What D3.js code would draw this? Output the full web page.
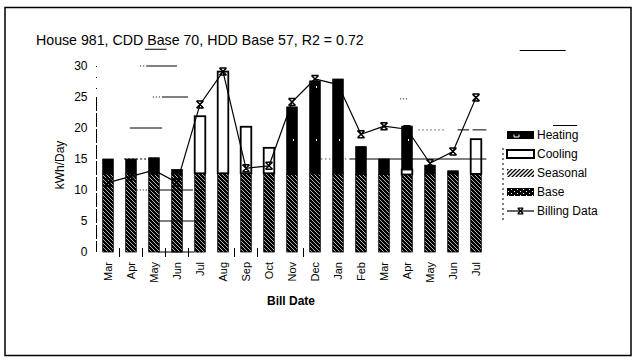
<!DOCTYPE html>
<html><head><meta charset="utf-8">
<script src="https://cdn.jsdelivr.net/npm/d3@7"></script>
<style>
body{margin:0;background:#fff}
svg{display:block}
text{font-family:"Liberation Sans",Arial,sans-serif;fill:#000}
</style>
</head><body>
<svg id="chart" width="637" height="362"></svg>
<script>
// ---- data ----
const billDates   = ["Mar","Apr","May","Jun","Jul","Aug","Sep","Oct","Nov","Dec","Jan","Feb","Mar","Apr","May","Jun","Jul"];
const baseKwh     = [12.6,12.6,12.6,12.6,12.7,12.7,12.7,12.7,12.5,12.6,12.6,12.5,12.5,12.5,12.6,12.6,12.6];
const seasonalKwh = [0,0,0,0,0,0,0,0,0,0,0,0,0,0,0,0,0];
const coolingKwh  = [0,0,0,0,9.2,16.4,7.5,4.1,0,0,0,0,0,0.8,0,0,5.6];
const heatingKwh  = [2.4,2.4,2.6,0.7,0,0,0,0,10.9,15.0,15.3,4.5,2.5,7.0,1.4,0.5,0];
const billingKwh  = [11.2,12.2,13.2,11.2,23.8,29.1,13.5,13.9,24.2,27.9,27.0,19.0,20.3,19.8,14.3,16.2,24.9];
const yTicks      = [0,5,10,15,20,25,30];
const legendLabels = ["Heating","Cooling","Seasonal","Base","Billing Data"];
const titleText = "House 981, CDD Base 70, HDD Base 57, R2 = 0.72";

// ---- layout ----
const svg = d3.select("#chart");
const X0 = 96.5, X1 = 487.5, Y0 = 252, Y1 = 66;
const idx = d3.range(billDates.length);
const x = d3.scaleBand().domain(idx).range([X0, X1]).paddingInner(0.54).paddingOuter(0.27);
const xc = d3.scaleLinear().domain([0, billDates.length]).range([X0, X1]); // category units
const y = d3.scaleLinear().domain([0, 30]).range([Y0, Y1]);

const table = idx.map(i => ({i, base: baseKwh[i], seasonal: seasonalKwh[i], cooling: coolingKwh[i], heating: heatingKwh[i]}));
const series = d3.stack().keys(["base","seasonal","cooling","heating"])(table);

// ---- patterns ----
const defs = svg.append("defs");
const pBase = defs.append("pattern").attr("id","pBase").attr("patternUnits","userSpaceOnUse").attr("width",4).attr("height",4);
pBase.append("rect").attr("width",4).attr("height",4).attr("fill","#000");
pBase.append("path").attr("d","M-1,-1L5,5M-1,3L1,5M3,-1L5,1").attr("stroke","#fff").attr("stroke-width",0.7);

const pSeas = defs.append("pattern").attr("id","pSeas").attr("patternUnits","userSpaceOnUse").attr("width",4).attr("height",4);
pSeas.append("rect").attr("width",4).attr("height",4).attr("fill","#fff");
pSeas.append("path").attr("d","M-1,5L5,-1M-1,1L1,-1M3,5L5,3").attr("stroke","#000").attr("stroke-width",1.3);

const pHeat = defs.append("pattern").attr("id","pHeat").attr("patternUnits","userSpaceOnUse").attr("width",23).attr("height",53);
pHeat.append("rect").attr("width",23).attr("height",53).attr("fill","#000");
pHeat.append("rect").attr("x",5).attr("y",9).attr("width",3).attr("height",4).attr("fill","#fff");
pHeat.append("rect").attr("x",17).attr("y",33).attr("width",1).attr("height",2).attr("fill","#fff");
pHeat.append("rect").attr("x",7).attr("y",41).attr("width",1).attr("height",1).attr("fill","#fff");

const pDots = defs.append("pattern").attr("id","pDots").attr("patternUnits","userSpaceOnUse").attr("width",6).attr("height",4);
pDots.append("rect").attr("width",6).attr("height",4).attr("fill","#000");
pDots.append("rect").attr("x",1).attr("y",1).attr("width",1).attr("height",1).attr("fill","#fff");
pDots.append("rect").attr("x",4).attr("y",3).attr("width",1).attr("height",1).attr("fill","#fff");

const fills = {base:"url(#pBase)", seasonal:"url(#pSeas)", cooling:"#fff", heating:"url(#pHeat)"};

// ---- frame ----
svg.append("rect").attr("x",5).attr("y",7.5).attr("width",626).attr("height",348)
  .attr("fill","none").attr("stroke","#000").attr("stroke-width",1.5);

// ---- title ----
svg.append("text").attr("x",36).attr("y",45).attr("font-size","14.2px").text(titleText);

// ---- bars ----
const gBars = svg.append("g");
series.forEach(s => {
  gBars.append("g").selectAll("rect").data(s.filter(d => d[1] - d[0] > 0)).join("rect")
    .attr("x", d => x(d.data.i))
    .attr("width", x.bandwidth())
    .attr("y", d => y(d[1]))
    .attr("height", d => y(d[0]) - y(d[1]))
    .attr("fill", fills[s.key])
    .attr("stroke", "#000")
    .attr("stroke-width", s.key === "cooling" ? 1.8 : 0.8);
});

// ---- stray grid fragments visible in the reference (level in kWh/Day, span in category units) ----
const fragments = [
  {v:32.7, a:2.1, b:3.05, dash:null},
  {v:30, a:1.9, b:2.2, dash:"1,2"}, {v:30, a:2.2, b:3.5, dash:null},
  {v:25, a:2.45, b:2.85, dash:"1,2"}, {v:25, a:2.85, b:3.98, dash:null},
  {v:20, a:1.45, b:2.85, dash:null},
  {v:15, a:1.2, b:2.7, dash:"2,2"},
  {v:15, a:9.6, b:11.0, dash:"1,3"}, {v:15, a:11.0, b:16.95, dash:null},
  {v:10, a:1.75, b:2.25, dash:"1,2"}, {v:10, a:2.25, b:4.15, dash:null}, {v:10, a:4.15, b:4.7, dash:"1,2"},
  {v:5, a:2.67, b:4.75, dash:null},
  {v:0, a:2.67, b:4.2, dash:null}, {v:0, a:4.2, b:4.7, dash:"1,3"},
  {v:24.7, a:13.2, b:13.5, dash:"1,2"},
  {v:19.7, a:14.0, b:15.1, dash:"1,3"}, {v:19.7, a:15.7, b:16.2, dash:null}, {v:19.7, a:16.35, b:16.95, dash:null},
  {v:32.5, a:18.4, b:20.4, dash:null},
  {v:20.4, a:19.85, b:20.9, dash:null}
];
svg.append("g").selectAll("line").data(fragments).join("line")
  .attr("x1", d => xc(d.a)).attr("x2", d => xc(d.b))
  .attr("y1", d => y(d.v)).attr("y2", d => y(d.v))
  .attr("stroke","#000").attr("stroke-width",1)
  .attr("stroke-dasharray", d => d.dash);

// ---- y axis ----
const gy = svg.append("g").attr("transform",`translate(${X0},0)`)
  .call(d3.axisLeft(y).tickValues(yTicks).tickSize(0).tickPadding(9));
gy.select(".domain").remove();
gy.selectAll("text").attr("font-size","12px").attr("font-family","Liberation Sans, Arial, sans-serif");
svg.append("line").attr("x1",X0).attr("x2",X0).attr("y1",y(30)).attr("y2",y(25))
  .attr("stroke","#000").attr("stroke-dasharray","1,10");
svg.append("line").attr("x1",X0).attr("x2",X0).attr("y1",y(25)).attr("y2",y(0))
  .attr("stroke","#000").attr("stroke-dasharray","14,2");

// ---- x axis ----
const gx = svg.append("g").attr("transform",`translate(0,${Y0})`)
  .call(d3.axisBottom(x).tickFormat(i => billDates[i]).tickSize(0));
gx.select(".domain").remove();
gx.selectAll("text")
  .attr("font-size","11px").attr("font-family","Liberation Sans, Arial, sans-serif")
  .attr("transform","rotate(-90)").attr("x",-10).attr("y",0).attr("dy","0.35em")
  .attr("text-anchor","end");
const tickBounds = [1,2,3,4,6,7,9];
svg.append("g").selectAll("line").data(tickBounds).join("line")
  .attr("x1", d => xc(d)).attr("x2", d => xc(d))
  .attr("y1", Y0 - 4).attr("y2", Y0 + 5)
  .attr("stroke","#000").attr("stroke-width",1);

// ---- billing line ----
const marker = "M-3.5,-3.5L3.5,-3.5M-3.5,3.5L3.5,3.5M-3.5,-3.5L3.5,3.5M3.5,-3.5L-3.5,3.5";
const xMid = i => x(i) + x.bandwidth()/2;
svg.append("path").datum(billingKwh)
  .attr("d", d3.line().x((d,i) => xMid(i)).y(d => y(d)))
  .attr("fill","none").attr("stroke","#000").attr("stroke-width",1.2);
svg.append("g").selectAll("path").data(billingKwh).join("path")
  .attr("transform",(d,i) => `translate(${xMid(i)},${y(d)})`)
  .attr("d", marker).attr("fill","none").attr("stroke","#000").attr("stroke-width",1.5);

// ---- axis titles ----
svg.append("text").attr("transform","translate(64,165) rotate(-90)")
  .attr("text-anchor","middle").attr("font-size","12px").text("kWh/Day");
svg.append("text").attr("x",291).attr("y",305).attr("text-anchor","middle")
  .attr("font-size","12px").attr("font-weight","bold").text("Bill Date");

// ---- legend ----
const LX = 507, LW = 27, LH = 8, LT = 135, LS = 19;
svg.append("line").attr("x1",503).attr("x2",503).attr("y1",148).attr("y2",222)
  .attr("stroke","#000").attr("stroke-dasharray","2,3");
const lg = svg.append("g").selectAll("g").data(legendLabels).join("g")
  .attr("transform",(d,i) => `translate(0,${LT + i*LS})`);
lg.append("text").attr("x",LX+30).attr("y",0).attr("dy","0.36em").attr("font-size","12px").text(d => d);
lg.each(function(d,i){
  const g = d3.select(this);
  if (i === 0) {
    g.append("rect").attr("x",LX).attr("y",-LH/2).attr("width",LW).attr("height",LH).attr("fill","#000");
    g.append("path").attr("d",`M${LX+7},${-0.5}V${2}H${LX+12}V${-0.5}`).attr("stroke","#fff").attr("fill","none");
  } else if (i === 1) {
    g.append("rect").attr("x",LX).attr("y",-LH/2).attr("width",LW).attr("height",LH)
      .attr("fill","#fff").attr("stroke","#000").attr("stroke-width",2);
  } else if (i === 2) {
    g.append("rect").attr("x",LX).attr("y",-LH/2).attr("width",LW).attr("height",LH).attr("fill","url(#pSeas)");
  } else if (i === 3) {
    g.append("rect").attr("x",LX).attr("y",-LH/2).attr("width",LW).attr("height",LH).attr("fill","url(#pDots)");
  } else {
    g.append("line").attr("x1",LX).attr("x2",LX+LW).attr("y1",0).attr("y2",0).attr("stroke","#000").attr("stroke-width",1.2);
    g.append("path").attr("transform",`translate(${LX+LW/2},0) scale(0.8)`).attr("d",marker)
      .attr("fill","none").attr("stroke","#000").attr("stroke-width",1.6);
  }
});
</script>
</body></html>
